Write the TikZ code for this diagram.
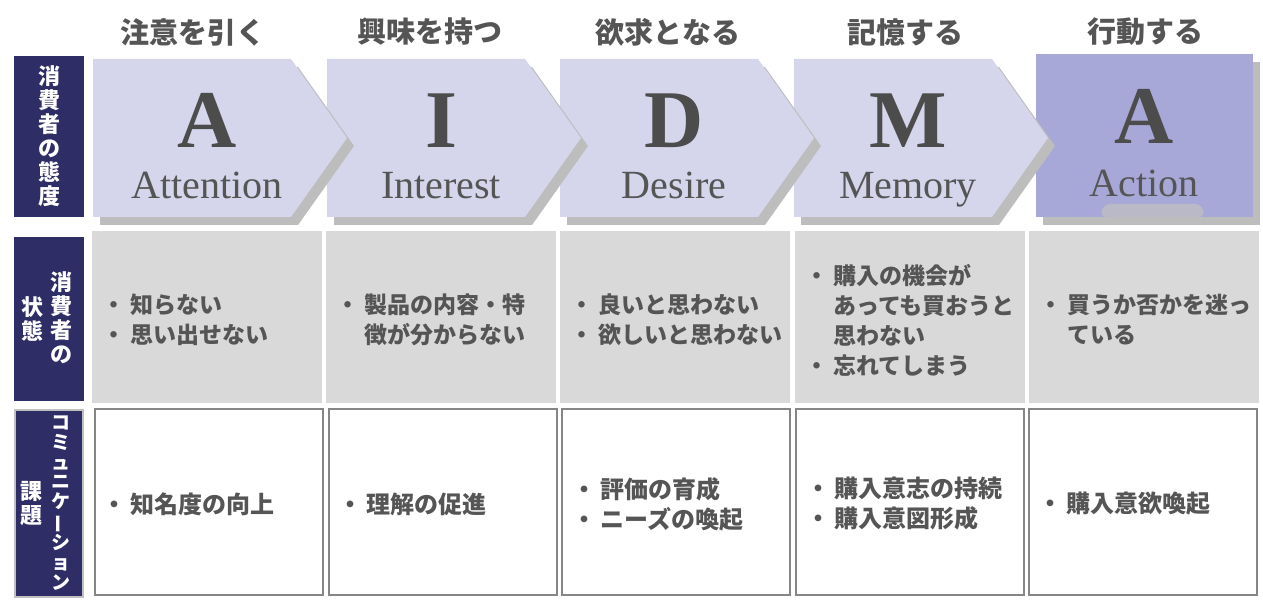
\documentclass[tikz,border=0pt]{standalone}
\usepackage{fontspec}
\usepackage{graphicx}
\usepackage{xcolor}
\setmainfont{Liberation Serif}
\newfontfamily\jp{Noto Sans CJK JP}
\usetikzlibrary{positioning}

\definecolor{navy}{HTML}{2F2D66}
\definecolor{lilac}{HTML}{D5D5EB}
\definecolor{lilacdark}{HTML}{A8A8D8}
\definecolor{shadowgray}{HTML}{BDBDBD}
\definecolor{bump}{HTML}{B9B9C8}
\definecolor{cellgray}{HTML}{D9D9D9}
\definecolor{cellline}{HTML}{868686}
\definecolor{barline}{HTML}{C0C0C0}
\definecolor{ink}{HTML}{555555}

% bullet item and its continuation line
\newcommand{\itm}[1]{\makebox[28pt][l]{・}#1}
\newcommand{\cont}[1]{\hspace*{28pt}#1}

\tikzset{
  head/.style={text=ink,font=\jp\bfseries\fontsize{29}{29}\selectfont,inner sep=0pt},
  letter/.style={text=ink!90!black,font=\bfseries\fontsize{82}{82}\selectfont,anchor=base,inner sep=0pt},
  word/.style={text=ink,font=\fontsize{40}{40}\selectfont,anchor=base,inner sep=0pt},
  arrowshadow/.style={fill=shadowgray},
  bar/.style={rectangle,fill=navy,minimum width=70pt,inner sep=0pt},
  bartext/.style={text=white,align=center,inner sep=0pt,font=\jp\bfseries\fontsize{22}{24}\selectfont},
  graycell/.style={rectangle,fill=cellgray,minimum width=230pt,minimum height=172pt,inner sep=0pt},
  whitecell/.style={rectangle,draw=cellline,line width=2pt,fill=white,minimum width=228pt,minimum height=186pt,inner sep=0pt},
  celltext/.style={text=ink,align=left,anchor=west,inner sep=0pt,font=\jp\bfseries\fontsize{23}{30}\selectfont},
  tasktext/.style={celltext,font=\jp\bfseries\fontsize{24}{30}\selectfont},
}

\begin{document}
\begin{tikzpicture}[x=1pt,y=-1pt]
\fill[white] (0,0) rectangle (1263,609);
\useasboundingbox (0,0) rectangle (1263,609);

% stage headings
\node[head] (h1) at (193,32) {注意を引く};
\node[head] (h2) at (430,32) {興味を持つ};
\node[head] (h3) at (668,32) {欲求となる};
\node[head] (h4) at (905,32) {記憶する};
\node[head] (h5) at (1145,32) {行動する};

% row labels
\node[bar,minimum height=161pt] (b1) at (49,136.5) {};
\node[bartext] (b1t) at (b1) {消\\費\\者\\の\\態\\度};
\node[bar,minimum height=164pt] (b2) at (49,319) {};
\node[bartext] (b2r) at (61,318) {消\\費\\者\\の};
\node[bartext] (b2l) at (32,319) {状\\態};
\node[bar,draw=barline,line width=2pt,minimum width=68pt,minimum height=187pt] (b3) at (49,503.5) {};
\node[bartext,font=\jp\bfseries\fontsize{19}{19.8}\selectfont] (b3r) at (61,503) {コ\\ミ\\ュ\\ニ\\ケ\\\rotatebox[origin=c]{90}{ー}\\シ\\ョ\\ン};
\node[bartext] (b3l) at (31.5,504) {課\\題};

% arrows, drawn from right to left so each tip lies on the next one
\fill[arrowshadow] (1043,62) rectangle (1260,225);
\fill[lilacdark] (1036,54) rectangle (1253,217);
\fill[bump,rounded corners=6pt] (1100,217) -- (1104,204) -- (1201,204) -- (1205,217) -- cycle;
\fill[arrowshadow,shift={(801,8)}] (0,59) -- (198,59) -- (254,138) -- (198,217) -- (0,217) -- cycle;
\fill[lilac,shift={(794,0)}] (0,59) -- (198,59) -- (254,138) -- (198,217) -- (0,217) -- cycle;
\fill[arrowshadow,shift={(567,8)}] (0,59) -- (198,59) -- (254,138) -- (198,217) -- (0,217) -- cycle;
\fill[lilac,shift={(560,0)}] (0,59) -- (198,59) -- (254,138) -- (198,217) -- (0,217) -- cycle;
\fill[arrowshadow,shift={(334,8)}] (0,59) -- (198,59) -- (254,138) -- (198,217) -- (0,217) -- cycle;
\fill[lilac,shift={(327,0)}] (0,59) -- (198,59) -- (254,138) -- (198,217) -- (0,217) -- cycle;
\fill[arrowshadow,shift={(100,8)}] (0,59) -- (198,59) -- (254,138) -- (198,217) -- (0,217) -- cycle;
\fill[lilac,shift={(93,0)}] (0,59) -- (198,59) -- (254,138) -- (198,217) -- (0,217) -- cycle;

\node[letter] (la) at (207,148) {A};
\node[word] (wa) at (207,199) {Attention};
\node[letter] (li) at (441,148) {I};
\node[word] (wi) at (441,199) {Interest};
\node[letter] (ld) at (674,148) {D};
\node[word] (wd) at (674,199) {Desire};
\node[letter] (lm) at (908,148) {M};
\node[word] (wm) at (908,199) {Memory};
\node[letter] (lx) at (1144,144) {A};
\node[word] (wx) at (1144,197) {Action};

% consumer state
\node[graycell] (s1) at (207,317) {};
\node[graycell] (s2) at (441,317) {};
\node[graycell] (s3) at (675,317) {};
\node[graycell] (s4) at (910,317) {};
\node[graycell] (s5) at (1144,317) {};
\node[celltext] (s1t) at (102,320) {\itm{知らない}\\\itm{思い出せない}};
\node[celltext] (s2t) at (336,320) {\itm{製品の内容・特}\\\cont{徴が分からない}};
\node[celltext] (s3t) at (570,320) {\itm{良いと思わない}\\\itm{欲しいと思わない}};
\node[celltext] (s4t) at (805,320) {\itm{購入の機会が}\\\cont{あっても買おうと}\\\cont{思わない}\\\itm{忘れてしまう}};
\node[celltext] (s5t) at (1039,320) {\itm{買うか否かを迷っ}\\\cont{ている}};

% communication tasks
\node[whitecell] (c1) at (209,502) {};
\node[whitecell] (c2) at (443,502) {};
\node[whitecell] (c3) at (676,502) {};
\node[whitecell] (c4) at (910,502) {};
\node[whitecell] (c5) at (1143,502) {};
\node[tasktext] (c1t) at (102,504) {\itm{知名度の向上}};
\node[tasktext] (c2t) at (338,504) {\itm{理解の促進}};
\node[tasktext] (c3t) at (572,504) {\itm{評価の育成}\\\itm{ニーズの喚起}};
\node[tasktext] (c4t) at (806,504) {\itm{購入意志の持続}\\\itm{購入意図形成}};
\node[tasktext] (c5t) at (1038,504) {\itm{購入意欲喚起}};
\end{tikzpicture}
\end{document}
